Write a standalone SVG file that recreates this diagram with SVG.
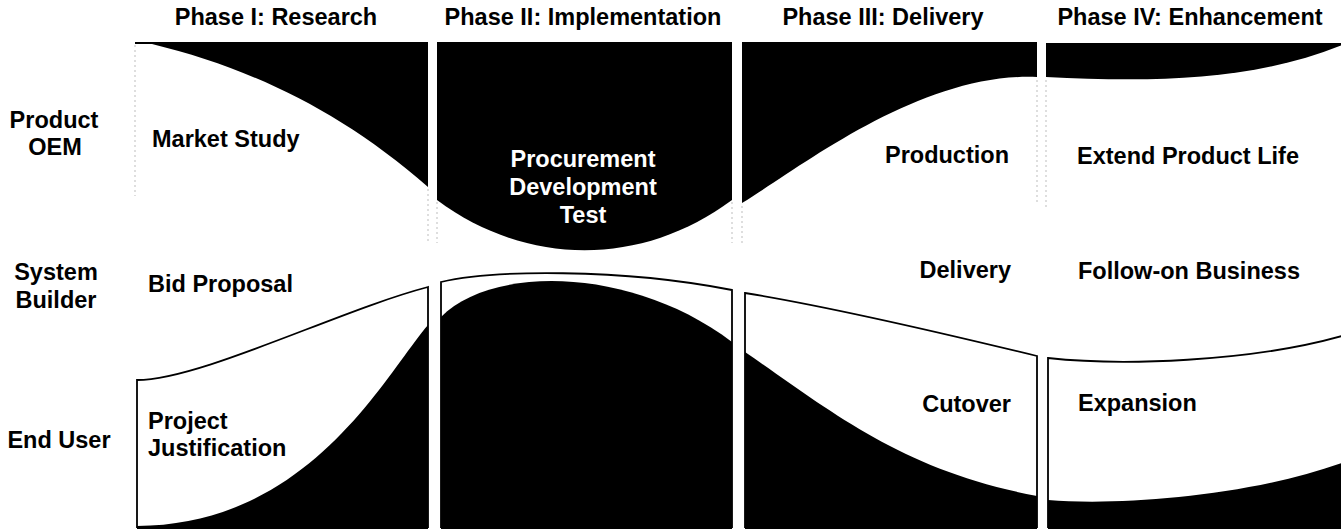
<svg xmlns="http://www.w3.org/2000/svg" width="1341" height="529" viewBox="0 0 1341 529">
<style>
.t{font-family:"Liberation Sans",Arial,Helvetica,sans-serif;font-weight:bold;font-size:23.5px;fill:#000}
.w{fill:#fff}
.m{text-anchor:middle}
.e{text-anchor:end}
.blk{fill:#000}
.box{fill:#fff;stroke:#000;stroke-width:1.8}
.faint{fill:none;stroke:#bdbdbd;stroke-width:1;stroke-dasharray:2 3}
</style>
<rect width="1341" height="529" fill="#fff"/>
<g id="headers">
<text class="t m" x="276" y="25">Phase I: Research</text>
<text class="t m" x="583" y="25">Phase II: Implementation</text>
<text class="t m" x="883" y="25">Phase III: Delivery</text>
<text class="t m" x="1190" y="25">Phase IV: Enhancement</text>
</g>
<g id="row-labels">
<text class="t m" x="54" y="128">Product</text>
<text class="t m" x="55" y="155">OEM</text>
<text class="t m" x="56" y="280">System</text>
<text class="t m" x="56" y="308">Builder</text>
<text class="t m" x="59" y="448">End User</text>
</g>
<g id="faint-outlines">
<path class="faint" d="M135,45 V196 M428,189 V243 M437,202 V243 M732,202 V243 M742,206 V246 M1037,80 V205 M1046,80 V210"/>
</g>
<g id="research-oem">
<path class="blk" d="M135,42 L428,42 L428,187 C340,110 250,68 152,44 L135,44 Z"/>
<text class="t" x="152" y="147">Market Study</text>
</g>
<g id="implementation-oem">
<path class="blk" d="M437,42 L732,42 L732,200 C642,267 527,267 437,200 Z"/>
<text class="t m w" x="583" y="167">Procurement</text>
<text class="t m w" x="583" y="195">Development</text>
<text class="t m w" x="583" y="223">Test</text>
</g>
<g id="delivery-oem">
<path class="blk" d="M742,42 L1037,42 L1037,77 C920,72 800,168 742,203 Z"/>
<text class="t e" x="1009" y="163">Production</text>
</g>
<g id="enhancement-oem">
<path class="blk" d="M1046,43 L1342,43 L1342,45 C1250,82 1150,82 1046,77 Z"/>
<text class="t" x="1077" y="164">Extend Product Life</text>
</g>
<g id="research-builder">
<text class="t" x="148" y="292">Bid Proposal</text>
</g>
<g id="delivery-builder">
<text class="t e" x="1011" y="278">Delivery</text>
</g>
<g id="enhancement-builder">
<text class="t" x="1078" y="279">Follow-on Business</text>
</g>
<g id="research-user">
<path class="box" d="M137,380 C200,380 340,310 428,287 L428,527 L137,527 Z"/>
<path class="blk" d="M428,325 C385,375 310,525 137,526 L137,529 L428,529 Z"/>
<text class="t" x="148" y="429">Project</text>
<text class="t" x="148" y="456">Justification</text>
</g>
<g id="implementation-user">
<path class="box" d="M441,282 C490,270 620,268 732,290 L732,527 L441,527 Z"/>
<path class="blk" d="M441,317 C490,266 630,265 732,342 L732,529 L441,529 Z"/>
</g>
<g id="delivery-user">
<path class="box" d="M745,293 C820,305 930,330 1037,356 L1037,527 L745,527 Z"/>
<path class="blk" d="M745,352 C830,410 900,470 1037,496 L1037,529 L745,529 Z"/>
<text class="t e" x="1011" y="412">Cutover</text>
</g>
<g id="enhancement-user">
<path class="box" d="M1048,358 C1120,366 1250,362 1342,336 L1342,527 L1048,527 Z"/>
<path class="blk" d="M1048,500 C1120,506 1250,496 1342,463 L1342,529 L1048,529 Z"/>
<text class="t" x="1078" y="411">Expansion</text>
</g>
<g id="connectors"/>
</svg>
